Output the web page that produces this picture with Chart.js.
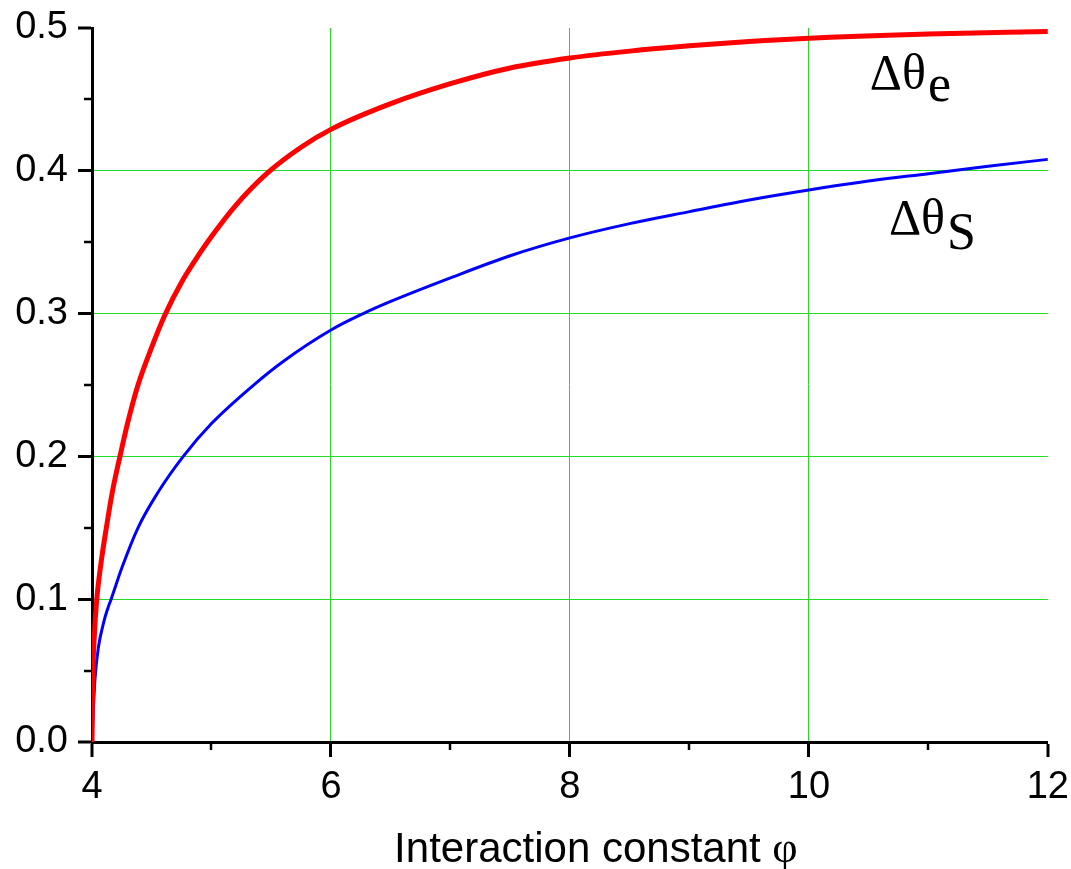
<!DOCTYPE html>
<html>
<head>
<meta charset="utf-8">
<script src="https://cdn.jsdelivr.net/npm/chart.js@4/dist/chart.umd.min.js"></script>
<style>
  body { margin: 0; background: #fff; }
  #wrap { width: 1071px; height: 869px; position: relative; }
</style>
</head>
<body>
<div id="wrap"><canvas id="chart"></canvas></div>
<script>
// values
const redX = [4.0, 4.005, 4.02, 4.04, 4.075, 4.12, 4.17, 4.234, 4.3, 4.385, 4.5, 4.61, 4.76, 4.904, 5.0, 5.2, 5.476, 5.75, 6.0, 6.5, 7.0, 7.5, 8.0, 8.5, 9.0, 9.5, 10.0, 11.0, 12.0];
const redY = [0, 0.04, 0.075, 0.1, 0.125, 0.15, 0.175, 0.2, 0.224, 0.25, 0.2765, 0.299, 0.3235, 0.3425, 0.354, 0.3755, 0.399, 0.4165, 0.429, 0.447, 0.461, 0.472, 0.479, 0.4838, 0.4875, 0.4905, 0.4928, 0.4958, 0.4975];

const blueX = [4.0, 4.01, 4.025, 4.053, 4.1, 4.13, 4.16, 4.25, 4.385, 4.55, 4.764, 5.0, 5.36, 5.6, 6.0, 6.27, 6.5, 7.0, 7.5, 8.0, 8.5, 9.0, 9.5, 10.0, 10.5, 11.0, 11.5, 12.0];
const blueY = [0, 0.02, 0.044, 0.066, 0.0845, 0.093, 0.1, 0.122, 0.15, 0.1745, 0.2, 0.223, 0.2505, 0.2665, 0.2885, 0.3, 0.3085, 0.325, 0.3405, 0.353, 0.363, 0.3714, 0.3796, 0.3866, 0.3928, 0.398, 0.4032, 0.408];

const xMinorTicks = [5, 7, 9, 11];
const yMinorTicks = [0.05, 0.15, 0.25, 0.35, 0.45];

const toPoints = (xs, ys) => xs.map((x, i) => ({ x: x, y: ys[i] }));

// short minor ticks, placed through the scales
const minorTicks = {
  id: 'minorTicks',
  afterDraw(chart) {
    const ctx = chart.ctx;
    const xs = chart.scales.x, ys = chart.scales.y;
    ctx.save();
    ctx.strokeStyle = '#000';
    ctx.lineWidth = 2.5;
    ctx.beginPath();
    xMinorTicks.forEach(v => {
      const px = Math.round(xs.getPixelForValue(v));
      ctx.moveTo(px, xs.top);
      ctx.lineTo(px, xs.top + 8);
    });
    yMinorTicks.forEach(v => {
      const py = Math.round(ys.getPixelForValue(v));
      ctx.moveTo(ys.right, py);
      ctx.lineTo(ys.right - 8, py);
    });
    ctx.stroke();
    ctx.restore();
  }
};

// curve labels and axis title (sans text + serif phi)
const textLabels = {
  id: 'textLabels',
  afterDatasetsDraw(chart) {
    const ctx = chart.ctx;
    const xs = chart.scales.x, ys = chart.scales.y;
    const put = (x, y, main, sub, subDy) => {
      const px = xs.getPixelForValue(x), py = ys.getPixelForValue(y);
      ctx.fillStyle = '#000';
      ctx.textAlign = 'left';
      ctx.textBaseline = 'alphabetic';
      ctx.font = '50px "Liberation Serif"';
      ctx.fillText(main, px, py);
      const w = ctx.measureText(main).width;
      ctx.font = '52px "Liberation Serif"';
      ctx.fillText(sub, px + w + 2, py + subDy);
    };
    ctx.save();
    put(10.51, 0.4576, 'Δθ', 'e', 12);
    put(10.67, 0.3557, 'Δθ', 'S', 15);

    // x axis title
    const t1 = 'Interaction constant ';
    const t2 = 'φ';
    ctx.font = '42px "Liberation Sans"';
    const w1 = ctx.measureText(t1).width;
    ctx.font = '44px "Liberation Serif"';
    const w2 = ctx.measureText(t2).width;
    const cx = (xs.left + xs.right) / 2 + 26;
    const x0 = cx - (w1 + w2) / 2;
    ctx.textAlign = 'left';
    ctx.textBaseline = 'alphabetic';
    ctx.fillStyle = '#000';
    ctx.font = '42px "Liberation Sans"';
    ctx.fillText(t1, x0, 862);
    ctx.font = '44px "Liberation Serif"';
    ctx.fillText(t2, x0 + w1, 862);
    ctx.restore();
  }
};

const ctx = document.getElementById('chart').getContext('2d');
new Chart(ctx, {
  type: 'line',
  data: {
    datasets: [{
      label: 'Δθe',
      data: toPoints(redX, redY),
      borderColor: '#ff0000',
      borderWidth: 5,
      pointRadius: 0,
      cubicInterpolationMode: 'monotone'
    }, {
      label: 'Δθs',
      data: toPoints(blueX, blueY),
      borderColor: '#0000ff',
      borderWidth: 3,
      pointRadius: 0,
      cubicInterpolationMode: 'monotone'
    }]
  },
  options: {
    responsive: true,
    maintainAspectRatio: false,
    animation: false,
    layout: { autoPadding: false, padding: { top: 28, right: 22, left: 0, bottom: 0 } },
    plugins: { legend: { display: false }, tooltip: { enabled: false } },
    scales: {
      x: {
        type: 'linear',
        min: 4,
        max: 12,
        afterFit(scale) { scale.height = 127; },
        border: { color: '#000', width: 3 },
        grid: {
          color: '#22dd22',
          lineWidth: c => (c.tick && (c.tick.value === 4 || c.tick.value === 12)) ? 0 : 1,
          tickColor: '#000',
          tickWidth: 3,
          tickLength: 15
        },
        ticks: {
          stepSize: 2,
          color: '#000',
          padding: 2,
          maxRotation: 0,
          font: { family: '"Liberation Sans", Arial', size: 38, lineHeight: 1.516 }
        }
      },
      y: {
        min: 0,
        max: 0.5,
        afterFit(scale) { scale.width = 92; },
        border: { color: '#000', width: 3 },
        grid: {
          color: '#22dd22',
          lineWidth: c => (c.tick && (c.tick.value === 0 || c.tick.value === 0.5)) ? 0 : 1,
          tickColor: '#000',
          tickWidth: 3,
          tickLength: 14
        },
        ticks: {
          stepSize: 0.1,
          color: '#000',
          padding: 10,
          callback: v => v.toFixed(1),
          font: { family: '"Liberation Sans", Arial', size: 38, lineHeight: 0.94 }
        }
      }
    }
  },
  plugins: [minorTicks, textLabels]
});
</script>
</body>
</html>
